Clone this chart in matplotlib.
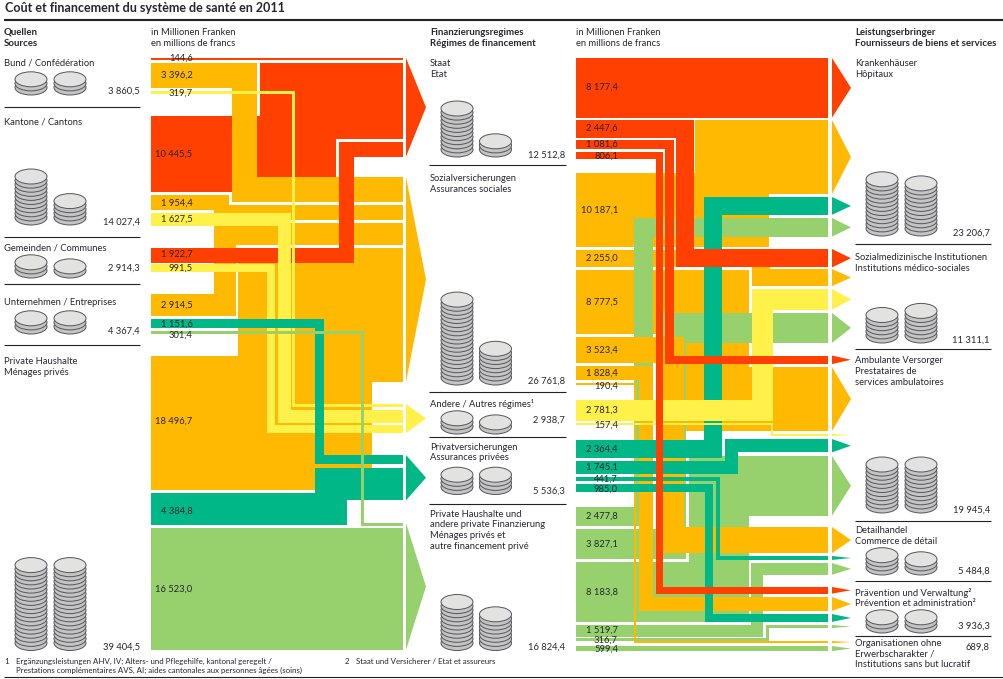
import matplotlib
matplotlib.use('Agg')
import matplotlib.pyplot as plt
from matplotlib.patches import Polygon, Ellipse, Rectangle

plt.rcParams['font.family'] = ['Lato', 'DejaVu Sans']

RED = '#FF4000'
ORANGE = '#FFB900'
YELLOW = '#FFF04A'
DGREEN = '#00B887'
LGREEN = '#96D16E'
INK = '#26262e'

# values, Mio. Fr. -- sources -> regimes
staat_in = [144.6, 10445.5, 1922.7]
sozial_in = [3396.2, 1954.4, 2914.5, 18496.7]
andere_in = [319.7, 1627.5, 991.5]
privat_in = [1151.6, 4384.8]
haushalte_in = [301.4, 16523.0]

# regimes -> providers
staat_out = [8177.4, 2447.6, 1081.6, 806.1]
sozial_out = [10187.1, 2255.0, 8777.5, 3523.4, 1828.4, 190.4]
andere_out = [2781.3, 157.4]
privat_out = [2364.4, 1745.1, 441.7, 985.0]
haushalte_out = [2477.8, 3827.1, 8183.8, 1519.7, 316.7, 599.4]

# totals shown next to the coins, with coins per stack
source_names = [['Bund / Confédération'], ['Kantone / Cantons'], ['Gemeinden / Communes'],
                ['Unternehmen / Entreprises'], ['Private Haushalte', 'Ménages privés']]
source_totals = [3860.5, 14027.4, 2914.3, 4367.4, 39404.5]
source_coins = [(2, 2), (10, 4), (2, 1), (2, 2), (19, 19)]

regime_names = [['Staat', 'Etat'], ['Sozialversicherungen', 'Assurances sociales'],
                ['Andere / Autres régimes¹'], ['Privatversicherungen', 'Assurances privées'],
                ['Private Haushalte und', 'andere private Finanzierung', 'Ménages privés et',
                 'autre financement privé']]
regime_totals = [12512.8, 26761.8, 2938.7, 5536.3, 16824.4]
regime_coins = [(10, 2), (19, 7), (2, 1), (3, 3), (10, 7)]

provider_names = [['Krankenhäuser', 'Hôpitaux'],
                  ['Sozialmedizinische Institutionen', 'Institutions médico-sociales'],
                  ['Ambulante Versorger', 'Prestataires de', 'services ambulatoires'],
                  ['Detailhandel', 'Commerce de détail'],
                  ['Prävention und Verwaltung²', 'Prévention et administration²'],
                  ['Organisationen ohne', 'Erwerbscharakter /', 'Institutions sans but lucratif']]
provider_totals = [23206.7, 11311.1, 19945.4, 5484.8, 3936.3, 689.8]
provider_coins = [(12, 11), (5, 6), (10, 10), (3, 2), (2, 2), None]

# band width in px per million, some bands are drawn a bit wider in the original
SCALE = 0.0072
PAD = 0.8
width_fix = {16523.0: 2.2, 3827.1: 1.5}


def width(v):
    return v * SCALE + PAD + width_fix.get(v, 0)


def band(ax, v, route, x0, x1, color):
    # route = (top at start, left edge of the vertical part, top at end)
    y0, xv, y1 = route
    t = width(v)
    if xv is None:
        pts = [(x0, y0), (x1, y0), (x1, y0 + t), (x0, y0 + t)]
    elif y1 > y0:
        pts = [(x0, y0), (xv + t, y0), (xv + t, y1), (x1, y1), (x1, y1 + t),
               (xv, y1 + t), (xv, y0 + t), (x0, y0 + t)]
    else:
        pts = [(x0, y0), (xv, y0), (xv, y1), (x1, y1), (x1, y1 + t),
               (xv + t, y1 + t), (xv + t, y0 + t), (x0, y0 + t)]
    ax.add_patch(Polygon(pts, closed=True, fc=color, ec='none', lw=0))


def arrow(ax, top, bottom, x0, x1, color):
    ax.add_patch(Polygon([(x0, top), (x1, (top + bottom) / 2), (x0, bottom)],
                         closed=True, fc=color, ec='none', lw=0))


def coins(ax, cx, bottom, n):
    w, h, step = 32, 15, 4.1
    edge = '#55555a'
    top_c = bottom - h / 2 - n * step
    ax.add_patch(Rectangle((cx - w / 2, top_c), w, bottom - h / 2 - top_c, fc='#c4c4c4', ec='none'))
    for i in range(n):
        ax.add_patch(Ellipse((cx, bottom - h / 2 - i * step), w, h, fc='#c4c4c4', ec=edge, lw=0.7))
    ax.add_patch(Ellipse((cx, top_c), w, h, fc='#e2e2e0', ec=edge, lw=0.7))


def num(v):
    return f'{v:,.1f}'.replace(',', ' ').replace('.', ',')


def txt(ax, x, y, s, ha='left', bold=False, size=None):
    # y = visual middle of the capitals
    if size is None:
        size = 6.9 if bold else 6.75
    ax.text(x, y + 3.2, s, ha=ha, va='baseline', fontsize=size, color=INK,
            fontweight='bold' if bold else 'normal', zorder=10)


fig = plt.figure(figsize=(10.04, 6.79), dpi=100, facecolor='white')
ax = fig.add_axes([0, 0, 1, 1])
ax.set_xlim(0, 1004)
ax.set_ylim(679, 0)
ax.axis('off')

# --- first block, x 151 -> 403
LX0, LX1, LA0, LA1 = 151, 403, 406, 426
staat_in_r = [(58, None, 58), (116, 260, 62.7), (248, 339, 142)]
sozial_in_r = [(62.7, 232, 177), (195, 214, 205), (294, 214, 223), (356, 238, 248)]
andere_in_r = [(91, 292, 404), (213, 278, 410), (264, 267, 425)]
privat_in_r = [(319, 315, 455), (493, 315, 468)]
haushalte_in_r = [(331, 361, 523), (528, None, 528)]

band(ax, staat_in[1], staat_in_r[1], LX0, LX1, RED)
for v, r in zip(sozial_in, sozial_in_r):
    band(ax, v, r, LX0, LX1, ORANGE)
band(ax, staat_in[0], staat_in_r[0], LX0, LX1, RED)
band(ax, staat_in[2], staat_in_r[2], LX0, LX1, RED)
for v, r in zip(andere_in, andere_in_r):
    band(ax, v, r, LX0, LX1, YELLOW)
for v, r in zip(privat_in, privat_in_r):
    band(ax, v, r, LX0, LX1, DGREEN)
for v, r in zip(haushalte_in, haushalte_in_r):
    band(ax, v, r, LX0, LX1, LGREEN)

for vals, routes, col in [(staat_in, staat_in_r, RED), (sozial_in, sozial_in_r, ORANGE),
                          (andere_in, andere_in_r, YELLOW), (privat_in, privat_in_r, DGREEN),
                          (haushalte_in, haushalte_in_r, LGREEN)]:
    top = min(r[2] for r in routes)
    bot = max(r[2] + width(v) for v, r in zip(vals, routes))
    arrow(ax, top, bot, LA0, LA1, col)

# --- second block, x 576 -> 828
RX0, RX1, RA0, RA1 = 576, 828, 832, 851
staat_out_r = [(58, None, 58), (120, 676, 249), (140, 665, 355.5), (152, 656, 587)]
sozial_out_r = [(173, 695, 120), (250, 752.5, 269), (270, 685, 367), (337, 657.5, 527),
                (366, 639, 597), (383, 634, 641)]
andere_out_r = [(400, 752.5, 289), (423, 771, 434)]
privat_out_r = [(440, 704, 197), (461, 725, 439), (477, 716, 556), (484, 705, 614)]
haushalte_out_r = [(507, 634, 218), (529, 656, 313), (562, 689, 456), (625, 751, 563),
                   (638, 766, 625), (646, None, 646)]

for v, r in zip(sozial_out[:3], sozial_out_r[:3]):
    band(ax, v, r, RX0, RX1, ORANGE)
for v, r in zip(haushalte_out, haushalte_out_r):
    band(ax, v, r, RX0, RX1, LGREEN)
for v, r in zip(sozial_out[3:], sozial_out_r[3:]):
    band(ax, v, r, RX0, RX1, ORANGE)
for v, r in zip(privat_out, privat_out_r):
    band(ax, v, r, RX0, RX1, DGREEN)
for v, r in zip(andere_out, andere_out_r):
    band(ax, v, r, RX0, RX1, YELLOW)
for v, r in zip(staat_out, staat_out_r):
    band(ax, v, r, RX0, RX1, RED)

for vals, routes, col in [(staat_out, staat_out_r, RED), (sozial_out, sozial_out_r, ORANGE),
                          (andere_out, andere_out_r, YELLOW), (privat_out, privat_out_r, DGREEN),
                          (haushalte_out, haushalte_out_r, LGREEN)]:
    for v, r in zip(vals, routes):
        arrow(ax, r[2], r[2] + width(v), RA0, RA1, col)

# --- value labels on the bands
in_vals = staat_in + sozial_in + andere_in + privat_in + haushalte_in
in_y = [57.5, 153.5, 253.5, 74.5, 202.5, 304.5, 420.5, 92.5, 218.5, 267.5, 323.5, 510.5, 334.5, 588.5]
for v, y in zip(in_vals, in_y):
    txt(ax, 192.5, y, num(v), ha='right')

out_vals = staat_out + sozial_out + andere_out + privat_out + haushalte_out
out_y = [86.5, 127.5, 143.5, 155.5, 209.5, 257.5, 301.5, 349.5, 372.5, 385.5, 409.5, 424.5,
         448.5, 466.5, 478.5, 488, 515.5, 543.5, 591.5, 629, 639.5, 648.5]
for v, y in zip(out_vals, out_y):
    txt(ax, 618, y, num(v), ha='right')

# --- headers
ax.text(5, 12.5, 'Coût et financement du système de santé en 2011', fontsize=9.0, fontweight='bold',
        color=INK, ha='left', va='baseline')
ax.plot([4, 1004], [20, 20], color='#222222', lw=1.5, solid_capstyle='butt')
ax.plot([4, 1004], [676.7, 676.7], color='#222222', lw=0.8, solid_capstyle='butt')

txt(ax, 4, 31.5, 'Quellen', bold=True)
txt(ax, 4, 42.5, 'Sources', bold=True)
txt(ax, 430, 31.5, 'Finanzierungsregimes', bold=True)
txt(ax, 430, 42.5, 'Régimes de financement', bold=True)
txt(ax, 855, 31.5, 'Leistungserbringer', bold=True)
txt(ax, 855, 42.5, 'Fournisseurs de biens et services', bold=True)
for x in (151, 576):
    txt(ax, x, 31.5, 'in Millionen Franken')
    txt(ax, x, 42.5, 'en millions de francs')


# --- the three side columns
def column(names, totals, stacks, name_y, total_y, coin_bottom, rules, x_txt, x_num, x_rule, stack_x):
    for name, ys in zip(names, name_y):
        for line, y in zip(name, ys):
            txt(ax, x_txt, y, line)
    for v, y in zip(totals, total_y):
        txt(ax, x_num, y, num(v), ha='right')
    for st, b in zip(stacks, coin_bottom):
        if st is None:
            continue
        for n, b_i, cx in zip(st, b, stack_x):
            coins(ax, cx, b_i, n)
    for y in rules:
        ax.plot(x_rule, [y, y], color='#222222', lw=0.8, solid_capstyle='butt')


column(source_names, source_totals, source_coins,
       [[62.5], [121.5], [247.5], [301.5], [360.5, 371.5]],
       [90.5, 221.5, 267.5, 330.5, 646.5],
       [(95, 95), (225, 225), (278, 278), (334, 334), (650.5, 650.5)],
       [106.5, 236.5, 283.5, 344.5], 4, 140, [4, 140], (31, 70))

column(regime_names, regime_totals, regime_coins,
       [[62.5, 73.5], [177.5, 188.5], [403.5], [446.5, 456.5], [513.5, 523.5, 534.5, 545.5]],
       [154.5, 380.5, 419, 490.5, 646.5],
       [(157, 157), (385, 385), (434, 434), (494.5, 494.5), (650.5, 650.5)],
       [165, 392.3, 436.5, 503.5], 430, 565, [429, 566], (457, 495.5))

column(provider_names, provider_totals, provider_coins,
       [[62.5, 73.5], [256.5, 267.5], [359.5, 370.5, 381.5], [529.5, 540.5], [592.5, 602.5],
        [642.5, 653.5, 663.5]],
       [232.5, 339, 509.5, 570.5, 625.5, 646.5],
       [(236, 236), (343, 343), (513, 513), (575, 575), (633, 633), (0, 0)],
       [243.5, 349, 520.5, 581, 636], 855, 990, [855, 991], (882, 921))

# --- footnotes
FS = 5.7
txt(ax, 4, 660.5, '1', size=FS)
txt(ax, 16, 660.5, 'Ergänzungsleistungen AHV, IV; Alters- und Pflegehilfe, kantonal geregelt /', size=FS)
txt(ax, 16, 669.5, 'Prestations complémentaires AVS, AI; aides cantonales aux personnes âgées (soins)', size=FS)
txt(ax, 345, 660.5, '2', size=FS)
txt(ax, 356, 660.5, 'Staat und Versicherer / Etat et assureurs', size=FS)

fig.savefig('out.png', dpi=100, facecolor='white')
